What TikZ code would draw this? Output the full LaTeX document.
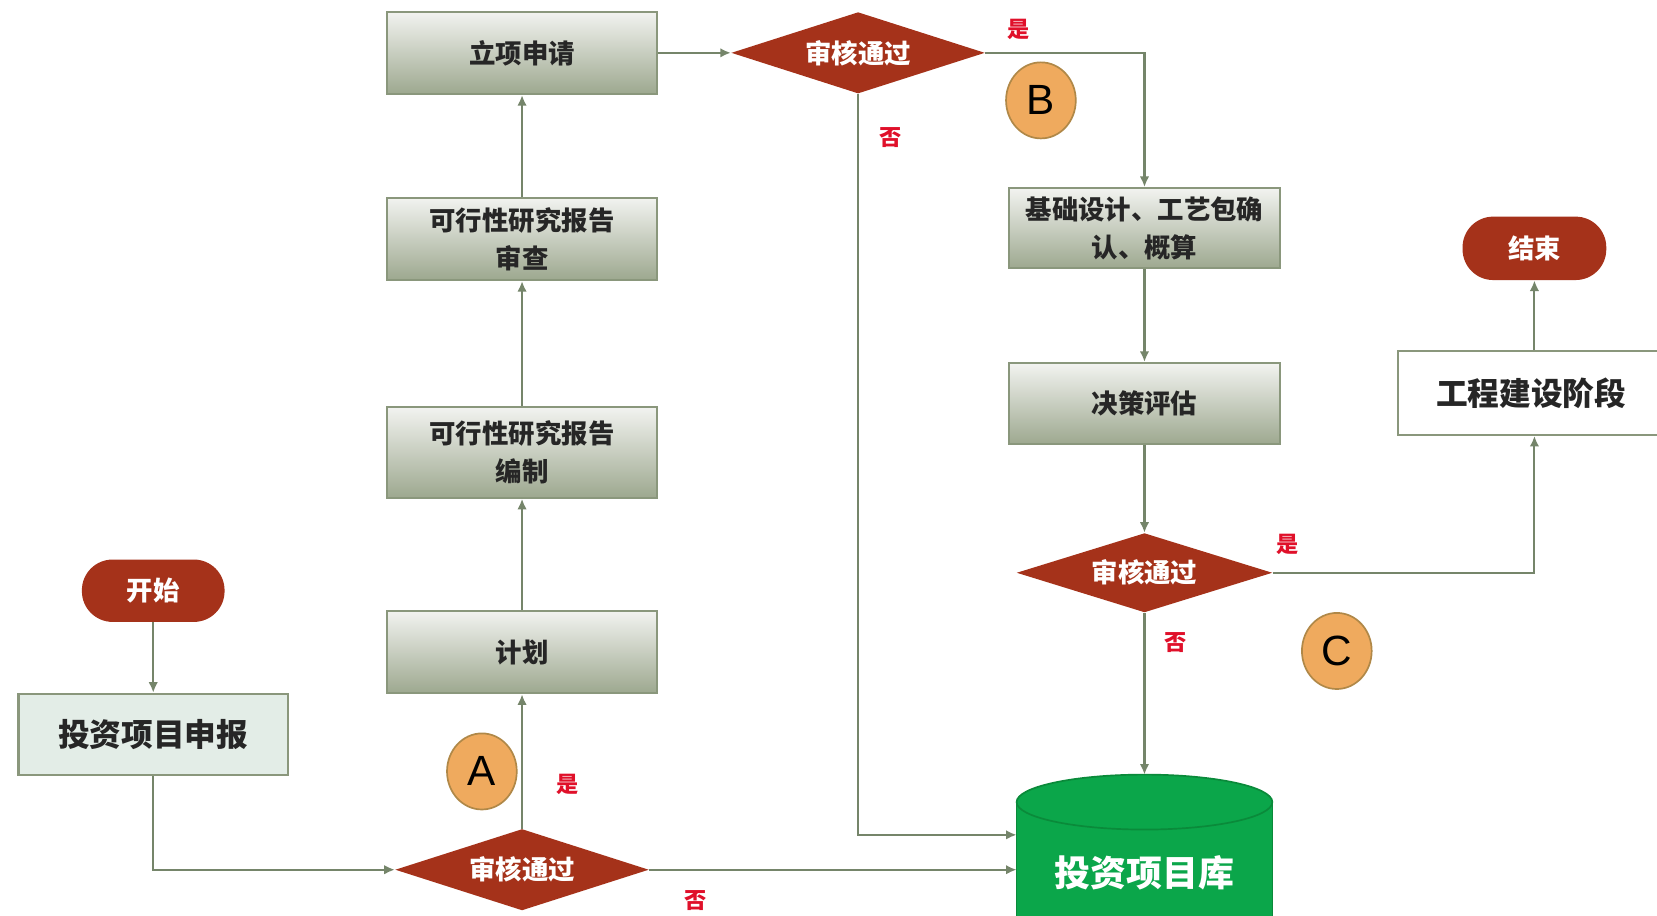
\documentclass[tikz,border=0pt]{standalone}
\usepackage{fontspec}
\newfontfamily\cjk{Noto Sans CJK SC}
\newfontfamily\lat{Liberation Sans}
\usetikzlibrary{shapes.geometric,arrows.meta}
\definecolor{boxtop}{HTML}{F2F3F0}
\definecolor{boxbot}{HTML}{9DA88F}
\definecolor{boxedge}{HTML}{8A977C}
\definecolor{lightfill}{HTML}{E3EDE7}
\definecolor{decred}{HTML}{A5321A}
\definecolor{circfill}{HTML}{EFAA5E}
\definecolor{circedge}{HTML}{B08848}
\definecolor{lblred}{HTML}{E0102A}
\definecolor{linec}{HTML}{75856A}
\definecolor{dbgreen}{HTML}{0BA64A}
\definecolor{dbedge}{HTML}{0A8A3A}
\tikzset{
  gbox/.style={rectangle, draw=boxedge, line width=1pt, top color=boxtop, bottom color=boxbot,
    minimum width=127.5pt, minimum height=39pt, inner sep=0pt, align=center,
    font=\cjk\bfseries\fontsize{12.5}{18}\selectfont, text=black!85},
  lbox/.style={rectangle, draw=boxedge, line width=1pt, fill=lightfill,
    minimum width=127.5pt, minimum height=38.5pt, inner sep=0pt,
    font=\cjk\bfseries\fontsize{15}{18}\selectfont, text=black!85},
  wbox/.style={rectangle, draw=boxedge, line width=1pt, fill=white,
    minimum width=129pt, minimum height=39.5pt, inner sep=0pt,
    font=\cjk\bfseries\fontsize{15}{18}\selectfont, text=black!85},
  dec/.style={diamond, fill=decred, aspect=3.1, inner sep=0pt,
    minimum width=120pt, minimum height=38.5pt,
    font=\cjk\bfseries\fontsize{12.5}{15}\selectfont, text=white},
  term/.style={rectangle, rounded corners=14.5pt, fill=decred,
    minimum width=67.5pt, minimum height=29.5pt, inner sep=0pt,
    font=\cjk\bfseries\fontsize{12.5}{15}\selectfont, text=white},
  mark/.style={},
  tag/.style={ellipse, fill=circfill, draw=circedge, line width=0.8pt,
    minimum width=33pt, minimum height=36pt, inner sep=0pt,
    font=\lat\fontsize{20}{22}\selectfont, text=black},
  yn/.style={font=\cjk\bfseries\fontsize{10.5}{12}\selectfont, text=lblred, inner sep=0pt},
  conn/.style={draw=linec, line width=1pt, -{Latex[length=5pt,width=4.5pt]}, fill=none}
}
\begin{document}
\begin{tikzpicture}[x=0.5pt,y=-0.5pt]
\useasboundingbox (0,0) rectangle (1568,866);
\fill[white] (0,0) rectangle (1568,866);

% left column nodes
\node[gbox] (lx) at (494,50) {立项申请};
\node[gbox] (sc) at (494,226) {可行性研究报告\\审查};
\node[gbox, minimum height=43pt] (bz) at (494,428) {可行性研究报告\\编制};
\node[gbox] (jh) at (494,617) {计划};
\node[term] (start) at (145,559) {开始};
\node[lbox] (sb) at (145,695) {投资项目申报};
\node[dec] (d1) at (494,823) {审核通过};

% middle/right
\node[dec] (d2) at (812,50) {审核通过};
\node[gbox, minimum width=128pt, minimum height=38pt] (jc) at (1083,216) {基础设计、工艺包确\\认、概算};
\node[gbox, minimum width=128pt, minimum height=38.5pt] (jp) at (1083,382) {决策评估};
\node[dec, minimum width=121pt, minimum height=37.5pt] (d3) at (1083,542) {审核通过};
\node[wbox, minimum width=129pt] (gc) at (1452,372) {\hspace*{-3pt}工程建设阶段};
\node[term, minimum width=68pt, minimum height=30pt] (end) at (1452,235) {结束};

% database cylinder
\fill[dbgreen] (962,759) -- (962,900) -- (1204,900) -- (1204,759)
  arc[start angle=0,end angle=180,x radius=60.5pt,y radius=13pt] -- cycle;
\draw[dbedge, line width=0.8pt] (1083,759) ellipse[x radius=60.5pt, y radius=13pt];
\draw[dbedge, line width=0.8pt] (962,759) -- (962,900) (1204,759) -- (1204,900);
\node[font=\cjk\bfseries\fontsize{17}{20}\selectfont, text=white] (db) at (1083,826) {投资项目库};
\coordinate (dbtop) at (1083,733);
\coordinate (dbin1) at (962,790);
\coordinate (dbin2) at (962,823);

% tags
\node[tag] (ta) at (456,730) {A};
\node[tag] (tb) at (985,95) {B};
\node[tag] (tc) at (1265,616) {C};

% yes/no labels
\node[yn] (y1) at (537,742) {是};
\node[yn] (n1) at (658,852) {否};
\node[yn] (y2) at (964,28) {是};
\node[yn] (n2) at (843,130) {否};
\node[yn] (y3) at (1218,515) {是};
\node[yn] (n3) at (1112,608) {否};

% connectors
\draw[conn] (start) -- (sb);
\draw[conn] (sb.south) |- (d1.west);
\draw[conn] (d1.north) -- (jh.south);
\draw[conn] (jh.north) -- (bz.south);
\draw[conn] (bz.north) -- (sc.south);
\draw[conn] (sc.north) -- (lx.south);
\draw[conn] (lx.east) -- (d2.west);
\draw[conn] (d2.east) -| (jc.north);
\draw[conn] (d2.south) |- (dbin1);
\draw[conn] (d1.east) -- (dbin2);
\draw[conn] (jc.south) -- (jp.north);
\draw[conn] (jp.south) -- (d3.north);
\draw[conn] (d3.south) -- (dbtop);
\draw[conn] (d3.east) -| (gc.south);
\draw[conn] (gc.north) -- (end.south);
\end{tikzpicture}
\end{document}
